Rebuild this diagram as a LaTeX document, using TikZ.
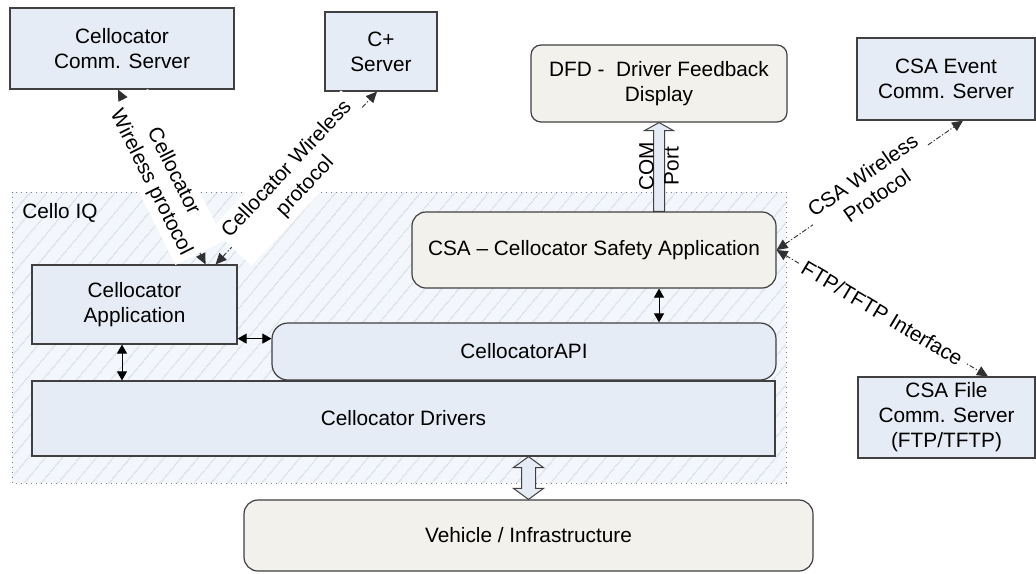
\documentclass[tikz,border=0pt]{standalone}
\usepackage{fontspec}
\setmainfont{Liberation Sans}
\usetikzlibrary{arrows.meta,calc,patterns.meta}
\definecolor{boxblue}{HTML}{E6ECF6}
\definecolor{boxbeige}{HTML}{F3F1EB}
\definecolor{iqfill}{HTML}{F3F6FB}
\definecolor{hatchcol}{HTML}{D8DEE9}
\definecolor{bordercol}{HTML}{404040}
\definecolor{linecol}{HTML}{303030}
\newcommand{\lab}{\fontsize{10.4pt}{12.5pt}\selectfont}
\tikzset{
  bluebox/.style={draw=bordercol, line width=0.6pt, fill=boxblue, font=\lab, align=center, inner sep=0pt},
  beigebox/.style={draw=bordercol, line width=0.6pt, fill=boxbeige, font=\lab, align=center, inner sep=0pt, rounded corners=7pt},
  apibox/.style={draw=bordercol, line width=0.6pt, fill=boxblue, font=\lab, align=center, inner sep=0pt, rounded corners=8pt},
  hatchfill/.style={preaction={fill=iqfill},
      pattern={Lines[angle=50,distance=6.5pt,line width=0.55pt]}, pattern color=hatchcol},
  iqborder/.style={draw=gray, line width=0.5pt, dotted},
  conn/.style={draw=linecol, line width=0.45pt, dash pattern=on 2.5pt off 1pt on 0.6pt off 1pt,
      {Triangle[length=5.5pt,width=5pt]}-{Triangle[length=5.5pt,width=5pt]}},
  dblarrow/.style={draw=black, line width=0.5pt,
      {Triangle[length=4.5pt,width=5pt]}-{Triangle[length=4.5pt,width=5pt]}},
  blockarrow/.style={draw=bordercol, line width=0.5pt, fill=boxblue},
  conlabel/.style={fill=white, font=\lab, align=center, sloped, inner sep=2.5pt},
  plainlabel/.style={font=\lab, align=center, inner sep=0pt}
}
\begin{document}
\begin{tikzpicture}[x=0.5pt,y=-0.5pt]
\useasboundingbox (0,0) rectangle (1036,573);
\fill[white] (0,0) rectangle (1036,573);

% container
\path[hatchfill] (12,192) rectangle (786,483);
\draw[iqborder] (12,192) rectangle (786,483);
\node[plainlabel, anchor=west] (iq) at (22,213) {Cello IQ};

% boxes
\node[bluebox, minimum width=112pt, minimum height=40.5pt] (ccs) at (122,48.5) {Cellocator\\Comm. Server};
\node[bluebox, minimum width=56pt, minimum height=39.5pt] (cplus) at (381,51.5) {C+\\Server};
\node[beigebox, rounded corners=5pt, minimum width=128pt, minimum height=38.5pt] (dfd) at (659,83.5) {DFD -~~Driver Feedback\\Display};
\node[bluebox, minimum width=89pt, minimum height=41pt] (csaev) at (946,79) {CSA Event\\Comm. Server};
\node[bluebox, minimum width=88.5pt, minimum height=40.5pt] (csaf) at (946.5,417.5) {CSA File\\Comm. Server\\(FTP/TFTP)};

\node[bluebox, minimum width=102.5pt, minimum height=39.5pt] (app) at (134.5,304.5) {Cellocator\\Application};
\node[beigebox, minimum width=182pt, minimum height=38pt] (csa) at (594,250) {CSA -- Cellocator Safety Application};
\node[apibox, minimum width=252pt, minimum height=28.5pt] (api) at (524,351.5) {CellocatorAPI};
\node[bluebox, minimum width=371.5pt, minimum height=37.5pt] (drv) at (403.5,418.5) {Cellocator Drivers};
\node[beigebox, minimum width=284.5pt, minimum height=35.5pt] (veh) at (528.5,535.5) {Vehicle / Infrastructure};

% COM port block arrow
\coordinate (ct) at (dfd.south);
\coordinate (cb) at (dfd.south |- csa.north);
\draw[blockarrow] ($(cb)+(-5.5,0)$) -- ($(ct)+(-5.5,8)$) -- ($(ct)+(-14.5,8)$) -- (ct)
   -- ($(ct)+(14.5,8)$) -- ($(ct)+(5.5,8)$) -- ($(cb)+(5.5,0)$) -- cycle;
\node[plainlabel, rotate=90] (com) at ($(ct)!0.5!(cb)+(0,-1)$) {COM\\Port};

% Vehicle block double arrow
\coordinate (vt) at (veh.north |- drv.south);
\coordinate (vb) at (veh.north);
\draw[blockarrow] (vt) -- ($(vt)+(15,11)$) -- ($(vt)+(7,11)$) -- ($(vb)+(7,-11)$) -- ($(vb)+(15,-11)$)
   -- (vb) -- ($(vb)+(-15,-11)$) -- ($(vb)+(-7,-11)$) -- ($(vt)+(-7,11)$) -- ($(vt)+(-15,11)$) -- cycle;

% small double arrows
\coordinate (aa) at ($(app.south east)+(0,-6)$);
\draw[dblarrow] (aa) -- (aa -| api.west);
\draw[dblarrow] (csa.south -| ct) -- (api.north -| ct);
\coordinate (ad) at ($(app.south)+(-12.5,0)$);
\draw[dblarrow] (ad) -- (ad |- drv.north);

% wireless connectors
\coordinate (a1) at ($(app.north east)+(-32,0)$);
\coordinate (a2) at ($(app.north east)+(-22,0)$);
\draw[conn] (a1) -- node[conlabel] {Cellocator\\Wireless protocol} ($(ccs.south)+(-4,0)$);
\draw[conn] (a2) -- node[conlabel] {Cellocator Wireless\\protocol} ($(cplus.south)+(-4,0)$);
\draw[conn] (csa.east) -- node[conlabel] {CSA Wireless\\Protocol} ($(csaev.south)+(17,0)$);
\draw[conn] (csa.east) -- node[conlabel] {FTP/TFTP Interface} ($(csaf.north)+(41.5,0)$);
\end{tikzpicture}
\end{document}
